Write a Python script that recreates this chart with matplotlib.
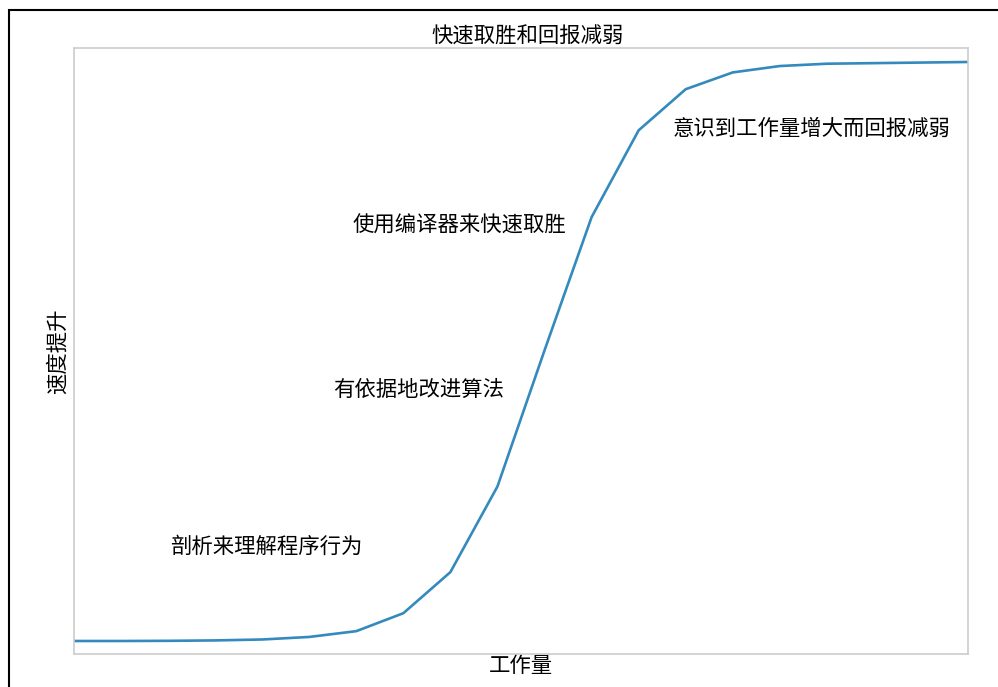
import matplotlib
matplotlib.use('Agg')
import matplotlib.pyplot as plt
from matplotlib.patches import Rectangle

plt.rcParams['font.family'] = ['Noto Sans CJK SC', 'DejaVu Sans']

# work steps and speedup (0..1 scale)
work = list(range(20))
speedup = [0.0, 0.0, 0.0003, 0.001, 0.0026, 0.007, 0.017, 0.048, 0.119, 0.267,
           0.502, 0.732, 0.882, 0.953, 0.982, 0.993, 0.997, 0.998, 0.999, 1.0]

# annotation text and where it sits (data coords)
notes = ['剖析来理解程序行为', '有依据地改进算法', '使用编译器来快速取胜', '意识到工作量增大而回报减弱']
note_x = [2.04, 5.51, 5.91, 12.72]
note_y = [0.162, 0.434, 0.717, 0.884]

fig = plt.figure(figsize=(9.98, 6.87), dpi=100)
ax = fig.add_axes([0.0741, 0.048, 0.8959, 0.882])

ax.plot(work, speedup, color='#348ABD', linewidth=1.9)

for txt, x, y in zip(notes, note_x, note_y):
    ax.text(x, y, txt, fontsize=15.4, ha='left', va='center')

ax.set_xlim(0, 19)
ax.set_ylim(-0.0225, 1.024)
ax.set_xticks([])
ax.set_yticks([])
for sp in ax.spines.values():
    sp.set_color('#cccccc')
    sp.set_linewidth(1.2)

ax.set_title('快速取胜和回报减弱', fontsize=15.4, pad=2, x=0.507)
ax.set_xlabel('工作量', fontsize=15.4, labelpad=1)
ax.set_ylabel('速度提升', fontsize=15.4, labelpad=4)

# black frame round the figure (right and bottom run off the image)
fig.patches.append(Rectangle((9 / 998, -0.1), 1.1, 1.1 - 10 / 687,
                             transform=fig.transFigure, fill=False,
                             edgecolor='black', linewidth=1.5))

fig.savefig('out.png', dpi=100)
